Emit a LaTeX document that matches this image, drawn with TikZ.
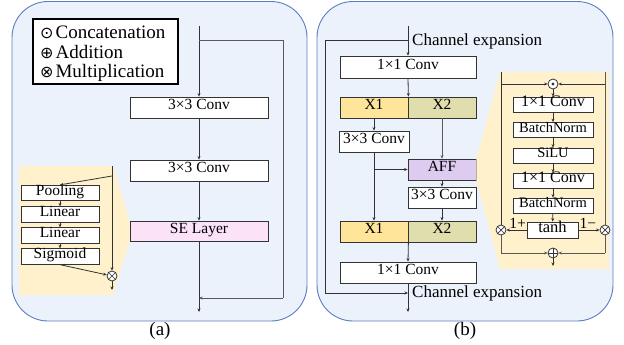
\documentclass[tikz,border=0pt]{standalone}
\usepackage{fontspec}
\setmainfont{Liberation Serif}
\newfontfamily\symfont{DejaVu Sans}
\usetikzlibrary{arrows.meta}
\definecolor{panelfill}{HTML}{EBF2FC}
\definecolor{panelline}{HTML}{5A7EC0}
\definecolor{yelfill}{HTML}{FFF1CC}
\definecolor{sefill}{HTML}{FBE2F7}
\definecolor{xone}{HTML}{FFE599}
\definecolor{xtwo}{HTML}{E1DEAE}
\definecolor{afffill}{HTML}{DDCBF0}
\definecolor{ln}{HTML}{333333}
\tikzset{
  panel/.style={draw=panelline, fill=panelfill, line width=0.9pt, rounded corners=36pt},
  box/.style={draw=ln, fill=white, line width=0.8pt, inner sep=0pt, text height=0.68em, text depth=0.2em, font=\fontsize{15.5}{17}\selectfont},
  sbox/.style={box, minimum width=80pt, minimum height=15pt, font=\fontsize{14.5}{16}\selectfont},
  lbox/.style={box, minimum width=78pt, minimum height=15.5pt},
  wire/.style={draw=ln, line width=0.8pt},
  arr/.style={wire, -{Stealth[length=3.5pt,width=3pt]}},
  opbase/.style={circle, draw=ln, fill=white, line width=0.8pt, minimum size=10pt, inner sep=0pt},
  opmul/.style={opbase, path picture={\draw[ln, line width=0.7pt] (path picture bounding box.north west) -- (path picture bounding box.south east) (path picture bounding box.north east) -- (path picture bounding box.south west);}},
  opadd/.style={opbase, path picture={\draw[ln, line width=0.7pt] (path picture bounding box.north) -- (path picture bounding box.south) (path picture bounding box.east) -- (path picture bounding box.west);}},
  opcat/.style={opbase, path picture={\fill[ln] (path picture bounding box.center) circle (1.6pt);}},
  lbl/.style={font=\fontsize{17}{19}\selectfont, inner sep=0pt, anchor=west},
  leg/.style={lbl, font=\fontsize{19}{21}\selectfont},
}
\newcommand{\legsym}[1]{{\symfont\fontsize{16}{18}\selectfont #1}\hspace{2pt}}
\begin{document}
\begin{tikzpicture}[x=1pt,y=-1pt]
\useasboundingbox (0,0) rectangle (624,345);
% ---------------- panel (a) ----------------
\draw[panel] (12,1.5) rectangle (307,321);
\node[draw=black, line width=1.4pt, fill=white, minimum width=145pt, minimum height=65pt, inner sep=0pt] (legend) at (105.5,51.5) {};
\node[leg] (lg1) at (40,32) {\legsym{⊙}Concatenation};
\node[leg] (lg2) at (40,52.5) {\legsym{⊕}Addition};
\node[leg] (lg3) at (40,73) {\legsym{⊗}Multiplication};

\coordinate (ain) at (199,26);
\coordinate (asp) at (199,40);
\coordinate (ar1) at (283,40);
\coordinate (ar2) at (283,298);
\coordinate (ajn) at (199,298);
\coordinate (aout) at (199,312);
\node[box, minimum width=138pt, minimum height=21pt] (ac1) at (199,107.5) {3×3 Conv};
\node[box, minimum width=138pt, minimum height=21pt] (ac2) at (199,170.5) {3×3 Conv};
\node[box, fill=sefill, minimum width=138pt, minimum height=20pt] (se) at (199,231) {SE Layer};

\draw[wire] (ain) -- (asp);
\draw[arr] (asp) -- (ac1);
\draw[arr] (ac1) -- (ac2);
\draw[arr] (ac2) -- (se);
\draw[wire] (se) -- (ajn);
\draw[arr] (ajn) -- (aout);
\draw[wire, draw=black!65] (asp) -- (ar1) -- (ar2);
\draw[arr, draw=black!65] (ar2) -- (ajn);

% SE zoom
\fill[yelfill] (19,166) -- (113,166) -- (se.north west) -- (se.south west) -- (113,295) -- (19,295) -- cycle;
\coordinate (stop) at (112,166);
\coordinate (sbr) at (112,176);
\coordinate (sout) at (112,290);
\node[lbox] (pool) at (60,193) {Pooling};
\node[lbox] (lin1) at (60,214.5) {Linear};
\node[lbox] (lin2) at (60,235.5) {Linear};
\node[lbox] (sig) at (60,256.5) {Sigmoid};
\node[opmul] (smul) at (112,276) {};
\draw[arr] (stop) -- (smul);
\draw[arr] (smul) -- (sout);
\draw[arr] (sbr) -- (pool.north);
\draw[arr] (pool) -- (lin1);
\draw[arr] (lin1) -- (lin2);
\draw[arr] (lin2) -- (sig);
\draw[arr] (sig.south) -- (smul);
\node[font=\fontsize{19}{20}\selectfont] (capa) at (160,331) {(a)};

% ---------------- panel (b) ----------------
\draw[panel] (317,1.5) rectangle (613,321);
\coordinate (bin) at (408,26);
\coordinate (bsp) at (408,40);
\coordinate (bl1) at (325,40);
\coordinate (bl2) at (325,293);
\coordinate (bjn) at (408,293);
\coordinate (bout) at (408,312);
\node[lbl] (ce1) at (412,41) {Channel expansion};
\node[lbl] (ce2) at (412,293.5) {Channel expansion};

\node[box, minimum width=136pt, minimum height=22pt] (conv1) at (408,67) {1×1 Conv};
\node[box, fill=xone, minimum width=68pt, minimum height=21pt] (x1a) at (374,107.5) {X1};
\node[box, fill=xtwo, minimum width=68pt, minimum height=21pt] (x2a) at (442,107.5) {X2};
\node[box, minimum width=70pt, minimum height=21pt] (c3a) at (374,141.5) {3×3 Conv};
\node[box, fill=afffill, minimum width=68pt, minimum height=21pt] (aff) at (442,169.5) {AFF};
\node[box, minimum width=68pt, minimum height=21pt] (c3b) at (442,197.5) {3×3 Conv};
\node[box, fill=xone, minimum width=68pt, minimum height=21pt] (x1b) at (374,231.5) {X1};
\node[box, fill=xtwo, minimum width=68pt, minimum height=21pt] (x2b) at (442,231.5) {X2};
\node[box, minimum width=136pt, minimum height=21pt] (conv2) at (408,272.5) {1×1 Conv};
\coordinate (bbr) at (374,169.5);

\draw[wire] (bin) -- (bsp);
\draw[arr] (bsp) -- (conv1);
\draw[wire] (bsp) -- (bl1) -- (bl2);
\draw[arr] (bl2) -- (bjn);
\draw[arr] (conv1.south) -- (x1a.north east);
\draw[arr] (x1a) -- (c3a);
\draw[arr, draw=black!65] (x2a) -- (aff);
\draw[arr] (c3a) -- (x1b);
\draw[arr] (bbr) -- (aff.west);
\draw[arr] (aff) -- (c3b);
\draw[arr] (c3b) -- (x2b);
\draw[arr] (x1b.south east) -- (conv2.north);
\draw[wire] (conv2) -- (bjn);
\draw[arr] (bjn) -- (bout);

% AFF zoom
\fill[yelfill] (500,72) -- (609,72) -- (609,269) -- (500,269) -- (aff.south east) -- (aff.north east) -- cycle;
\coordinate (ltop) at (501,72);
\coordinate (lbr) at (501,84);
\coordinate (lbot) at (501,253);
\coordinate (rtop) at (605,72);
\coordinate (rbr) at (605,84);
\coordinate (rbot) at (605,253);
\coordinate (fout) at (553,266);
\node[opcat] (cat) at (553,84) {};
\node[sbox, font=\fontsize{16}{17}\selectfont] (fc1) at (553,104.5) {1×1 Conv};
\node[sbox] (fbn1) at (553,130) {BatchNorm};
\node[sbox] (fsilu) at (553,155.5) {SiLU};
\node[sbox, font=\fontsize{16}{17}\selectfont] (fc2) at (553,180.5) {1×1 Conv};
\node[sbox] (fbn2) at (553,205.5) {BatchNorm};
\node[box, minimum width=51pt, minimum height=16pt, font=\fontsize{16.5}{17}\selectfont] (tanh) at (552.5,230) {tanh};
\node[opmul] (ml) at (501,230) {};
\node[opmul] (mr) at (605,230) {};
\node[opadd] (add) at (553,253) {};

\draw[wire] (ltop) -- (ml);
\draw[wire, draw=black!65] (rtop) -- (mr);
\draw[arr] (lbr) -- (cat);
\draw[arr] (rbr) -- (cat);
\draw[arr] (cat) -- (fc1);
\draw[arr] (fc1) -- (fbn1);
\draw[arr] (fbn1) -- (fsilu);
\draw[arr] (fsilu) -- (fc2);
\draw[arr] (fc2) -- (fbn2);
\draw[arr] (fbn2) -- (tanh);
\draw[arr] (tanh) -- node[above, inner sep=1pt, pos=0.45, font=\fontsize{15.5}{16}\selectfont] (lp) {1+} (ml);
\draw[arr] (tanh) -- node[above, inner sep=1pt, pos=0.45, font=\fontsize{15.5}{16}\selectfont] (lm) {1−} (mr);
\draw[wire, draw=black!65] (ml) -- (lbot);
\draw[arr, draw=black!65] (lbot) -- (add);
\draw[wire, draw=black!65] (mr) -- (rbot);
\draw[arr, draw=black!65] (rbot) -- (add);
\draw[arr] (add) -- (fout);
\node[font=\fontsize{19}{20}\selectfont] (capb) at (465,331) {(b)};
\end{tikzpicture}
\end{document}
